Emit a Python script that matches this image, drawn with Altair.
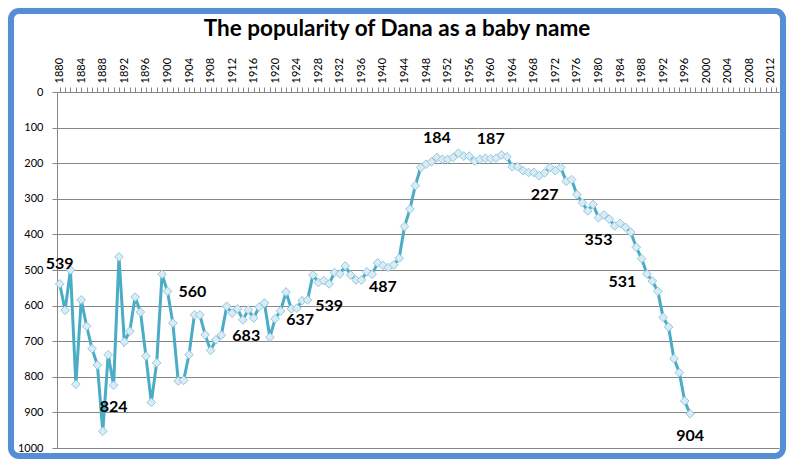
import altair as alt
import pandas as pd

# Dana (boys) rank by year
YEARS = list(range(1880, 1998))
RANKS = [
    539, 613, 500, 821, 584, 658, 721, 767, 953, 738,   # 1880s
    824, 463, 702, 672, 576, 618, 742, 872, 761, 512,   # 1890s
    560, 649, 812, 810, 738, 626, 626, 682, 726, 696,   # 1900s
    683, 602, 621, 609, 640, 612, 635, 604, 593, 689,   # 1910s
    637, 615, 562, 609, 607, 586, 584, 514, 535, 530,   # 1920s
    539, 507, 511, 489, 514, 528, 528, 505, 512, 480,   # 1930s
    487, 493, 486, 467, 378, 329, 263, 212, 203, 196,   # 1940s
    184, 189, 189, 184, 172, 180, 180, 194, 189, 186,   # 1950s
    187, 186, 177, 182, 210, 210, 221, 226, 226, 235,   # 1960s
    227, 212, 221, 212, 251, 246, 288, 311, 334, 316,   # 1970s
    353, 345, 357, 376, 369, 380, 394, 436, 468, 511,   # 1980s
    531, 560, 633, 660, 749, 788, 868, 904,             # 1990s
]

# labelled points and where the label sits
LABEL_YEARS = [1880, 1890, 1900, 1910, 1920, 1930, 1940, 1950, 1960, 1970, 1980, 1990, 1997]
LABEL_POS = ["above", "below", "right", "right", "right", "below", "below",
             "above", "above", "below", "below", "left", "below"]

X_TICKS = list(range(1880, 2014))
Y_TICKS = [0, 100, 200, 300, 400, 500, 600, 700, 800, 900, 1000]

LINE = "#4BACC6"
GRID = "#868686"
FRAME = "#558ED5"
FONT = "Lato"

df = pd.DataFrame({"year": YEARS, "rank": RANKS})
lab = pd.DataFrame({"year": LABEL_YEARS, "pos": LABEL_POS})
lab = lab.merge(df, on="year")

x = alt.X(
    "year:Q",
    scale=alt.Scale(domain=[1879.5, 2013.5], nice=False, zero=False),
    axis=alt.Axis(
        orient="top", values=X_TICKS, tickCount=300, format="d",
        labelExpr="datum.value % 4 == 0 ? datum.label : ''",
        labelAngle=-90, labelOverlap=False, labelFlush=False,
        labelFontSize=11, labelPadding=4, tickSize=5,
        grid=False, title=None,
    ),
)
y = alt.Y(
    "rank:Q",
    scale=alt.Scale(domain=[0, 1000], reverse=True, nice=False),
    axis=alt.Axis(
        values=Y_TICKS, tickCount=20, format="d", labelFontSize=11,
        labelPadding=9, labelOverlap=False, tickSize=5, grid=True, title=None,
    ),
)

base = alt.Chart(df)

line = base.mark_line(color=LINE, strokeWidth=3).encode(x=x, y=y)
pts = base.mark_point(
    shape="diamond", filled=True, fill="#DCEAF5", stroke="#8DCBDD",
    strokeWidth=1, opacity=1, size=75,
).encode(x=x, y=y)

offsets = {
    "above": dict(align="center", dx=0, dy=-20),
    "below": dict(align="center", dx=0, dy=22),
    "right": dict(align="left", dx=11, dy=1),
    "left": dict(align="right", dx=-16, dy=1),
}
texts = []
for pos, o in offsets.items():
    texts.append(
        alt.Chart(lab).transform_filter(alt.datum.pos == pos)
        .mark_text(font=FONT, fontSize=16, fontWeight="bold", color="black",
                   baseline="middle", **o)
        .encode(x=x, y=y, text="rank:Q")
    )

frame = alt.Chart(alt.Data(values=[{"f": 1}])).mark_rect(
    fill="transparent", stroke=FRAME, strokeWidth=6, cornerRadius=8
).encode(x=alt.value(-46), x2=alt.value(726), y=alt.value(-81), y2=alt.value(364))

chart = alt.layer(frame, line, pts, *texts).properties(
    width=722,
    height=356,
    padding={"left": 49, "top": 84, "right": 7, "bottom": 11},
    autosize=alt.AutoSizeParams(type="none"),
    background="white",
    title=alt.TitleParams(
        "The popularity of Dana as a baby name",
        font=FONT, fontSize=22.5, fontWeight="bold", color="black",
        anchor="middle", frame="group", dx=-21, offset=-32,
    ),
).configure_view(stroke="transparent").configure_axis(
    labelFont=FONT, labelColor="black", domainColor=GRID, tickColor=GRID,
    gridColor=GRID, gridWidth=1,
)

chart.save("out.html", embed_options={"renderer": "svg", "actions": False})
